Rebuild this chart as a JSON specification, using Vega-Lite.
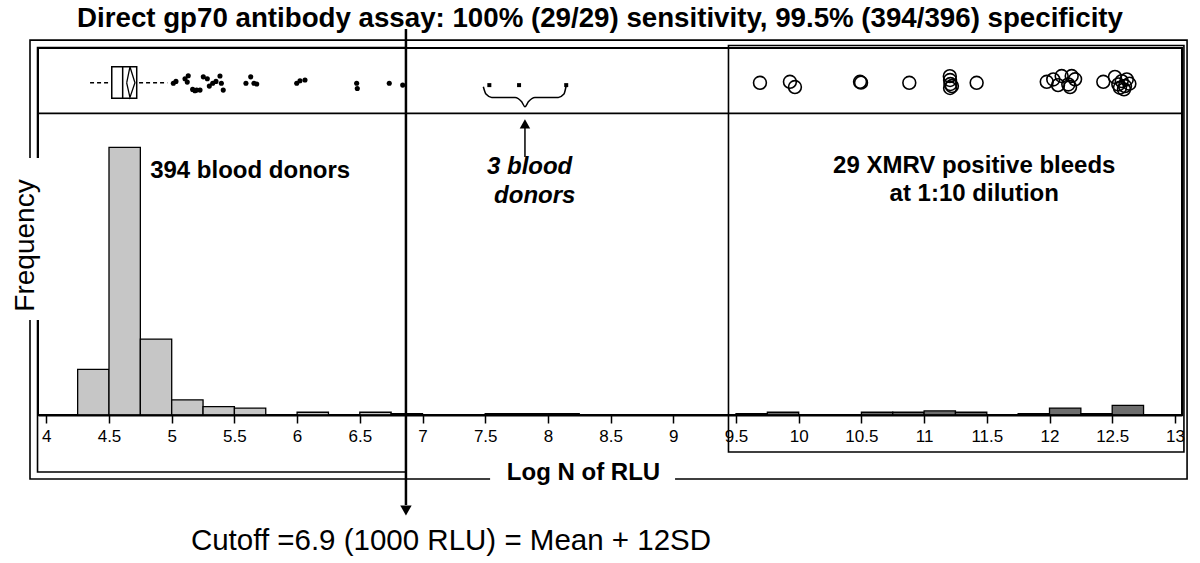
{
  "$schema": "https://vega.github.io/schema/vega-lite/v6.json",
  "autosize": {"type": "none"},
  "padding": {"left": 38, "top": 48, "right": 18, "bottom": 148},
  "width": 1144,
  "height": 367,
  "background": "white",
  "title": {
    "text": "Direct gp70 antibody assay: 100% (29/29) sensitivity, 99.5% (394/396) specificity",
    "font": "Liberation Sans", "fontSize": 27.7, "fontWeight": "bold", "color": "black",
    "anchor": "middle", "frame": "group", "baseline": "alphabetic", "offset": 3, "dx": -10, "dy": 30
  },
  "config": {"view": {"stroke": "black", "strokeWidth": 2}, "font": "Liberation Sans"},
  "data": {"values": [{}]},
  "datasets": {
    "hist": [
      {"start": 4.25, "end": 4.5, "count": 33, "group": "Blood donors"},
      {"start": 4.5, "end": 4.75, "count": 194, "group": "Blood donors"},
      {"start": 4.75, "end": 5.0, "count": 55, "group": "Blood donors"},
      {"start": 5.0, "end": 5.25, "count": 11, "group": "Blood donors"},
      {"start": 5.25, "end": 5.5, "count": 6, "group": "Blood donors"},
      {"start": 5.5, "end": 5.75, "count": 5, "group": "Blood donors"},
      {"start": 6.0, "end": 6.25, "count": 2, "group": "Blood donors"},
      {"start": 6.5, "end": 6.75, "count": 2, "group": "Blood donors"},
      {"start": 6.75, "end": 7.0, "count": 1, "group": "Blood donors"},
      {"start": 7.5, "end": 7.75, "count": 1, "group": "Blood donors"},
      {"start": 7.75, "end": 8.0, "count": 1, "group": "Blood donors"},
      {"start": 8.0, "end": 8.25, "count": 1, "group": "Blood donors"},
      {"start": 9.5, "end": 9.75, "count": 1, "group": "XMRV positive"},
      {"start": 9.75, "end": 10.0, "count": 2, "group": "XMRV positive"},
      {"start": 10.5, "end": 10.75, "count": 2, "group": "XMRV positive"},
      {"start": 10.75, "end": 11.0, "count": 2, "group": "XMRV positive"},
      {"start": 11.0, "end": 11.25, "count": 3, "group": "XMRV positive"},
      {"start": 11.25, "end": 11.5, "count": 2, "group": "XMRV positive"},
      {"start": 11.75, "end": 12.0, "count": 1, "group": "XMRV positive"},
      {"start": 12.0, "end": 12.25, "count": 5, "group": "XMRV positive"},
      {"start": 12.25, "end": 12.5, "count": 1, "group": "XMRV positive"},
      {"start": 12.5, "end": 12.75, "count": 7, "group": "XMRV positive"}
    ],
    "box": [
      {"min": 4.349, "q1": 4.522, "median": 4.609, "q3": 4.721, "max": 4.965}
    ],
    "meanDiamond": [
      {"value": 4.641, "level": 240.8, "order": 1},
      {"value": 4.667, "level": 252.4, "order": 2},
      {"value": 4.707, "level": 240.8, "order": 3},
      {"value": 4.667, "level": 230.2, "order": 4},
      {"value": 4.641, "level": 240.8, "order": 5}
    ],
    "donorOutliers": [
      {"value": 5.013, "jitter": 240.4}, {"value": 5.034, "jitter": 241.8},
      {"value": 5.106, "jitter": 243.7}, {"value": 5.132, "jitter": 245.9},
      {"value": 5.124, "jitter": 241.3}, {"value": 5.167, "jitter": 236.0},
      {"value": 5.185, "jitter": 235.0}, {"value": 5.199, "jitter": 235.5},
      {"value": 5.226, "jitter": 235.5}, {"value": 5.252, "jitter": 245.1},
      {"value": 5.284, "jitter": 243.7}, {"value": 5.300, "jitter": 238.4},
      {"value": 5.327, "jitter": 240.4}, {"value": 5.353, "jitter": 241.8},
      {"value": 5.385, "jitter": 245.7}, {"value": 5.396, "jitter": 240.4},
      {"value": 5.411, "jitter": 235.5}, {"value": 5.592, "jitter": 240.4},
      {"value": 5.630, "jitter": 245.1}, {"value": 5.656, "jitter": 240.4},
      {"value": 5.678, "jitter": 239.9}, {"value": 5.997, "jitter": 240.4},
      {"value": 6.023, "jitter": 242.3}, {"value": 6.063, "jitter": 242.8},
      {"value": 6.475, "jitter": 240.4}, {"value": 6.480, "jitter": 236.7},
      {"value": 6.735, "jitter": 240.4}, {"value": 6.842, "jitter": 239.1}
    ],
    "midDonors": [
      {"value": 7.533, "jitter": 239.1},
      {"value": 7.770, "jitter": 239.1},
      {"value": 8.146, "jitter": 239.1}
    ],
    "brace": [
      {"value": 7.485, "level": 237.9}, {"value": 7.506, "level": 232.6},
      {"value": 7.552, "level": 230.2}, {"value": 7.738, "level": 230.2},
      {"value": 7.791, "level": 227.0}, {"value": 7.817, "level": 223.4},
      {"value": 7.844, "level": 227.0}, {"value": 7.897, "level": 230.2},
      {"value": 8.083, "level": 230.2}, {"value": 8.128, "level": 232.6},
      {"value": 8.144, "level": 237.9}
    ],
    "positives": [
      {"value": 9.691, "jitter": 240.8}, {"value": 9.930, "jitter": 241.5},
      {"value": 9.970, "jitter": 237.7}, {"value": 10.489, "jitter": 241.5},
      {"value": 10.497, "jitter": 240.9}, {"value": 10.882, "jitter": 240.8},
      {"value": 11.205, "jitter": 245.6}, {"value": 11.207, "jitter": 242.8},
      {"value": 11.210, "jitter": 239.9}, {"value": 11.207, "jitter": 237.0},
      {"value": 11.222, "jitter": 238.4}, {"value": 11.419, "jitter": 240.8},
      {"value": 11.978, "jitter": 241.5}, {"value": 12.030, "jitter": 243.2},
      {"value": 12.068, "jitter": 239.1}, {"value": 12.097, "jitter": 245.7},
      {"value": 12.150, "jitter": 239.6}, {"value": 12.177, "jitter": 245.7},
      {"value": 12.164, "jitter": 237.7}, {"value": 12.204, "jitter": 243.3},
      {"value": 12.429, "jitter": 241.5}, {"value": 12.522, "jitter": 245.0},
      {"value": 12.549, "jitter": 239.6}, {"value": 12.576, "jitter": 242.0},
      {"value": 12.602, "jitter": 238.4}, {"value": 12.616, "jitter": 243.2},
      {"value": 12.637, "jitter": 240.1}, {"value": 12.594, "jitter": 236.0},
      {"value": 12.562, "jitter": 237.2}
    ]
  },
  "layer": [
    {
      "mark": {"type": "rect", "fill": "white", "fillOpacity": 0, "stroke": "black", "strokeWidth": 1.6},
      "encoding": {
        "x": {"datum": 3.870, "type": "quantitative",
              "scale": {"domain": [3.9338, 13.0566], "nice": false, "zero": false},
              "axis": {
                "title": "Log N of RLU", "titleFont": "Liberation Sans", "titleFontSize": 24,
                "titleFontWeight": "bold", "titleColor": "black", "titleX": 545, "titleY": 64,
                "titleBaseline": "alphabetic", "titleAlign": "center",
                "values": [4,4.25,4.5,4.75,5,5.25,5.5,5.75,6,6.25,6.5,6.75,7,7.25,7.5,7.75,8,8.25,8.5,8.75,9,9.25,9.5,9.75,10,10.25,10.5,10.75,11,11.25,11.5,11.75,12,12.25,12.5,12.75,13],
                "labelExpr": "datum.value % 0.5 == 0 ? format(datum.value, '~g') : ''",
                "labelFont": "Liberation Sans", "labelFontSize": 17, "labelColor": "black",
                "labelPadding": 5, "labelOverlap": false, "labelFlush": false,
                "tickColor": "black", "tickWidth": 1.5,
                "tickSize": {"condition": {"test": "datum.value % 0.5 == 0", "value": 8}, "value": 4},
                "domainColor": "black", "domainWidth": 1.8, "grid": false, "zindex": 1
              }},
        "x2": {"datum": 13.097},
        "y": {"datum": 271.7, "type": "quantitative",
              "scale": {"domain": [0, 266], "nice": false, "zero": true},
              "axis": {
                "title": "Frequency", "titleFont": "Liberation Sans", "titleFontSize": 28,
                "titleFontWeight": "normal", "titleColor": "black", "titleX": -5, "titleY": 197,
                "titleAngle": 270, "titleBaseline": "alphabetic", "titleAlign": "center",
                "domain": false, "ticks": false, "labels": false, "grid": false, "zindex": 1
              }},
        "y2": {"datum": -46.4}
      }
    },
    {
      "mark": {"type": "rect", "fill": "white", "fillOpacity": 0, "stroke": "black", "strokeWidth": 1.6},
      "encoding": {"x": {"datum": 3.930}, "x2": {"datum": 6.868}, "y": {"datum": 266.3}, "y2": {"datum": -41.3}}
    },
    {
      "mark": {"type": "rect", "fill": "white", "fillOpacity": 0, "stroke": "black", "strokeWidth": 1.6},
      "encoding": {"x": {"datum": 9.440}, "x2": {"datum": 13.072}, "y": {"datum": 267.8}, "y2": {"datum": -26.8}}
    },
    {
      "data": {"name": "hist"},
      "mark": {"type": "rect", "stroke": "black", "strokeWidth": 1.3},
      "encoding": {
        "x": {"field": "start", "type": "quantitative"},
        "x2": {"field": "end"},
        "y": {"field": "count", "type": "quantitative"},
        "y2": {"datum": 0},
        "fill": {"field": "group", "type": "nominal",
                 "scale": {"domain": ["Blood donors", "XMRV positive"], "range": ["#c6c6c6", "#6d6d6d"]},
                 "legend": null}
      }
    },
    {
      "mark": {"type": "rule", "color": "black", "strokeWidth": 1.6},
      "encoding": {"y": {"datum": 218.6}}
    },
    {
      "data": {"name": "box"},
      "mark": {"type": "rule", "color": "black", "strokeWidth": 1.5, "strokeDash": [4, 3]},
      "encoding": {"x": {"field": "min", "type": "quantitative"}, "x2": {"field": "max"}, "y": {"datum": 240.8}}
    },
    {
      "data": {"name": "box"},
      "mark": {"type": "rect", "fill": "white", "stroke": "black", "strokeWidth": 1.5},
      "encoding": {"x": {"field": "q1", "type": "quantitative"}, "x2": {"field": "q3"}, "y": {"datum": 229.5}, "y2": {"datum": 252.4}}
    },
    {
      "data": {"name": "box"},
      "mark": {"type": "rule", "color": "black", "strokeWidth": 1.5},
      "encoding": {"x": {"field": "median", "type": "quantitative"}, "y": {"datum": 229.5}, "y2": {"datum": 252.4}}
    },
    {
      "data": {"name": "meanDiamond"},
      "mark": {"type": "line", "color": "black", "strokeWidth": 1.3},
      "encoding": {
        "x": {"field": "value", "type": "quantitative"},
        "y": {"field": "level", "type": "quantitative"},
        "order": {"field": "order", "type": "quantitative"}
      }
    },
    {
      "data": {"name": "donorOutliers"},
      "mark": {"type": "point", "filled": true, "color": "black", "size": 26, "opacity": 1},
      "encoding": {"x": {"field": "value", "type": "quantitative"}, "y": {"field": "jitter", "type": "quantitative"}}
    },
    {
      "data": {"name": "midDonors"},
      "mark": {"type": "point", "shape": "square", "filled": true, "color": "black", "size": 16, "opacity": 1},
      "encoding": {"x": {"field": "value", "type": "quantitative"}, "y": {"field": "jitter", "type": "quantitative"}}
    },
    {
      "data": {"name": "brace"},
      "mark": {"type": "line", "color": "black", "strokeWidth": 1.5, "interpolate": "monotone"},
      "encoding": {"x": {"field": "value", "type": "quantitative"}, "y": {"field": "level", "type": "quantitative"}}
    },
    {
      "data": {"name": "positives"},
      "mark": {"type": "point", "filled": false, "color": "black", "strokeWidth": 1.6, "size": 165, "opacity": 1},
      "encoding": {"x": {"field": "value", "type": "quantitative"}, "y": {"field": "jitter", "type": "quantitative"}}
    },
    {
      "mark": {"type": "rule", "color": "black", "strokeWidth": 2.5},
      "encoding": {"x": {"datum": 6.868}, "y": {"datum": 279.7}, "y2": {"datum": -65.2}}
    },
    {
      "mark": {"type": "point", "shape": "triangle-down", "filled": true, "color": "black", "size": 130, "opacity": 1},
      "encoding": {"x": {"datum": 6.868}, "y": {"datum": -69.2}}
    },
    {
      "mark": {"type": "rule", "color": "black", "strokeWidth": 1.5},
      "encoding": {"x": {"datum": 7.817}, "y": {"datum": 187.0}, "y2": {"datum": 209.0}}
    },
    {
      "mark": {"type": "point", "shape": "triangle-up", "filled": true, "color": "black", "size": 110, "opacity": 1},
      "encoding": {"x": {"datum": 7.817}, "y": {"datum": 211.0}}
    },
    {
      "mark": {"type": "rect", "fill": "white", "stroke": null},
      "encoding": {"x": {"datum": 3.695}, "x2": {"datum": 3.966}, "y": {"datum": 186.2}, "y2": {"datum": 68.8}}
    },
    {
      "mark": {"type": "rect", "fill": "white", "stroke": null},
      "encoding": {"x": {"datum": 7.539}, "x2": {"datum": 9.014}, "y": {"datum": -41.5}, "y2": {"datum": -51.0}}
    },
    {
      "mark": {"type": "text", "text": "394 blood donors", "font": "Liberation Sans", "fontSize": 24, "fontWeight": "bold", "fill": "black", "align": "left", "baseline": "alphabetic"},
      "encoding": {"x": {"datum": 4.828}, "y": {"datum": 171.5}}
    },
    {
      "mark": {"type": "text", "text": "3 blood", "font": "Liberation Sans", "fontSize": 24, "fontWeight": "bold", "fontStyle": "italic", "fill": "black", "align": "left", "baseline": "alphabetic"},
      "encoding": {"x": {"datum": 7.514}, "y": {"datum": 174.6}}
    },
    {
      "mark": {"type": "text", "text": "donors", "font": "Liberation Sans", "fontSize": 24, "fontWeight": "bold", "fontStyle": "italic", "fill": "black", "align": "left", "baseline": "alphabetic"},
      "encoding": {"x": {"datum": 7.571}, "y": {"datum": 153.6}}
    },
    {
      "mark": {"type": "text", "text": "29 XMRV positive bleeds", "font": "Liberation Sans", "fontSize": 24, "fontWeight": "bold", "fill": "black", "align": "center", "baseline": "alphabetic"},
      "encoding": {"x": {"datum": 11.40}, "y": {"datum": 175.4}}
    },
    {
      "mark": {"type": "text", "text": "at 1:10 dilution", "font": "Liberation Sans", "fontSize": 24, "fontWeight": "bold", "fill": "black", "align": "center", "baseline": "alphabetic"},
      "encoding": {"x": {"datum": 11.40}, "y": {"datum": 155.1}}
    },
    {
      "mark": {"type": "text", "text": "Cutoff =6.9 (1000 RLU) = Mean + 12SD", "font": "Liberation Sans", "fontSize": 29.5, "fill": "black", "align": "center", "baseline": "alphabetic"},
      "encoding": {"x": {"datum": 7.227}, "y": {"datum": -97.8}}
    }
  ]
}
